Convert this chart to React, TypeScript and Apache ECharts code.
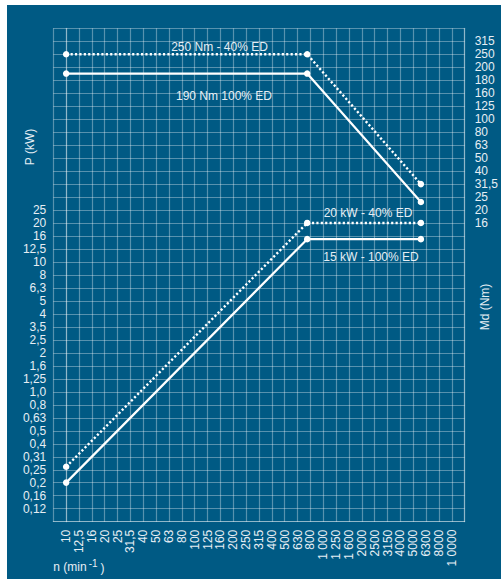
import React, { useEffect, useRef } from "react";
import * as echarts from "echarts";

// Speed axis (R10 steps, min^-1), one label per grid column
const speedLabels = [
  "10", "12,5", "16", "20", "25", "31,5", "40", "50", "63", "80", "100", "125", "160", "200", "250",
  "315", "400", "500", "630", "800", "1 000", "1 250", "1 600", "2000", "2500", "3150", "4000",
  "5000", "6300", "8000", "1 0000",
];
// Power axis labels (kW), grid rows 1..24
const powerLabels = [
  "0,12", "0,16", "0,2", "0,25", "0,31", "0,4", "0,5", "0,63", "0,8", "1,0", "1,25", "1,6",
  "2", "2,5", "3,5", "4", "5", "6,3", "8", "10", "12,5", "16", "20", "25",
];
// Torque axis labels (Nm), grid rows 23..37
const torqueLabels = ["16", "20", "25", "31,5", "40", "50", "63", "80", "100", "125", "160", "180", "200", "250", "315"];
const torqueLevels = [16, 20, 25, 31.5, 40, 50, 63, 80, 100, 125, 160, 180, 200, 250, 315];
const TORQUE_BASE_ROW = 23;

// Operating curves
const speed = [10, 750, 5750];
const power100 = [0.2, 15, 15];
const power40 = [0.265, 20, 20];
const torque100 = [190, 190, 23];
const torque40 = [250, 250, 31.5];

const nRow = (n: number) => 10 * Math.log10(n / 10);
const pRow = (p: number) => 10 * Math.log10(p / 0.1);
const tRow = (m: number) => {
  for (let i = 0; i < torqueLevels.length - 1; i++) {
    const a = torqueLevels[i];
    const b = torqueLevels[i + 1];
    if (m <= b || i === torqueLevels.length - 2) {
      return TORQUE_BASE_ROW + i + Math.log(m / a) / Math.log(b / a);
    }
  }
  return TORQUE_BASE_ROW;
};

const BG = "#005a84";
const GRID = "rgba(255,255,255,0.34)";
const TEXT = "#e6eef4";
const FONT = "'Liberation Sans', Arial, sans-serif";

export default function App() {
  const ref = useRef<HTMLDivElement>(null);

  useEffect(() => {
    if (!ref.current) return;
    const chart = echarts.init(ref.current, undefined, { renderer: "svg" });

    const solid = { color: "#ffffff", width: 2.2 };
    const dotted = { color: "#ffffff", width: 2.4, type: [2.2, 2.2] as number[], cap: "butt" as const };
    const mk = (ys: number[], f: (v: number) => number, ls: any, yAxisIndex: number) => ({
      type: "line",
      yAxisIndex,
      data: speed.map((n, i) => [nRow(n), f(ys[i])]),
      symbol: "circle",
      symbolSize: 6.5,
      itemStyle: { color: "#ffffff" },
      lineStyle: ls,
      silent: true,
      z: 5,
    });

    const labelStyle = { fill: TEXT, fontSize: 12, fontFamily: FONT, align: "center", verticalAlign: "middle" };

    chart.setOption({
      animation: false,
      backgroundColor: BG,
      grid: { left: 46.3, right: 33.3, top: 23.3, bottom: 57.3 },
      xAxis: {
        type: "value",
        min: -1,
        max: 31,
        interval: 1,
        axisLine: { show: true, onZero: false, lineStyle: { color: GRID, width: 1.2 } },
        axisTick: { show: false },
        splitLine: { show: true, lineStyle: { color: GRID, width: 1.2 } },
        axisLabel: {
          rotate: 90,
          margin: 8,
          color: TEXT,
          fontSize: 12,
          fontFamily: FONT,
          formatter: (v: number) => speedLabels[Math.round(v)] ?? "",
        },
      },
      yAxis: [
        {
          type: "value",
          position: "left",
          min: 0,
          max: 38,
          interval: 1,
          axisLine: { show: true, lineStyle: { color: GRID, width: 1.2 } },
          axisTick: { show: false },
          splitLine: { show: true, lineStyle: { color: GRID, width: 1.2 } },
          axisLabel: {
            margin: 7,
            color: TEXT,
            fontSize: 12,
            fontFamily: FONT,
            formatter: (v: number) => powerLabels[Math.round(v) - 1] ?? "",
          },
        },
        {
          type: "value",
          position: "right",
          min: 0,
          max: 38,
          interval: 1,
          axisLine: { show: true, lineStyle: { color: GRID, width: 1.2 } },
          axisTick: { show: false },
          splitLine: { show: false },
          axisLabel: {
            margin: 10,
            color: TEXT,
            fontSize: 12,
            fontFamily: FONT,
            formatter: (v: number) => torqueLabels[Math.round(v) - TORQUE_BASE_ROW] ?? "",
          },
        },
      ],
      series: [
        mk(power100, pRow, solid, 0),
        mk(power40, pRow, dotted, 0),
        mk(torque100, tRow, solid, 1),
        mk(torque40, tRow, dotted, 1),
      ],
      graphic: [
        { type: "text", x: 212.5, y: 41.7, style: { ...labelStyle, text: "250 Nm - 40% ED" } },
        { type: "text", x: 217, y: 91.3, style: { ...labelStyle, text: "190 Nm 100% ED" } },
        { type: "text", x: 361, y: 208.3, style: { ...labelStyle, text: "20 kW - 40% ED" } },
        { type: "text", x: 364, y: 252, style: { ...labelStyle, text: "15 kW - 100% ED" } },
        { type: "text", x: 23, y: 142, rotation: Math.PI / 2, style: { ...labelStyle, text: "P (kW)" } },
        { type: "text", x: 477.7, y: 302, rotation: Math.PI / 2, style: { ...labelStyle, text: "Md (Nm)" } },
        { type: "text", x: 46.3, y: 562.3, style: { ...labelStyle, align: "left", text: "n (min" } },
        { type: "text", x: 81.7, y: 558.3, style: { ...labelStyle, fontSize: 10, align: "left", text: "-1" } },
        { type: "text", x: 93.5, y: 562.8, style: { ...labelStyle, align: "left", text: ")" } },
      ],
    });

    return () => chart.dispose();
  }, []);

  return (
    <div
      ref={ref}
      style={{ position: "absolute", left: 7, top: 5, width: 494, height: 574 }}
    />
  );
}
